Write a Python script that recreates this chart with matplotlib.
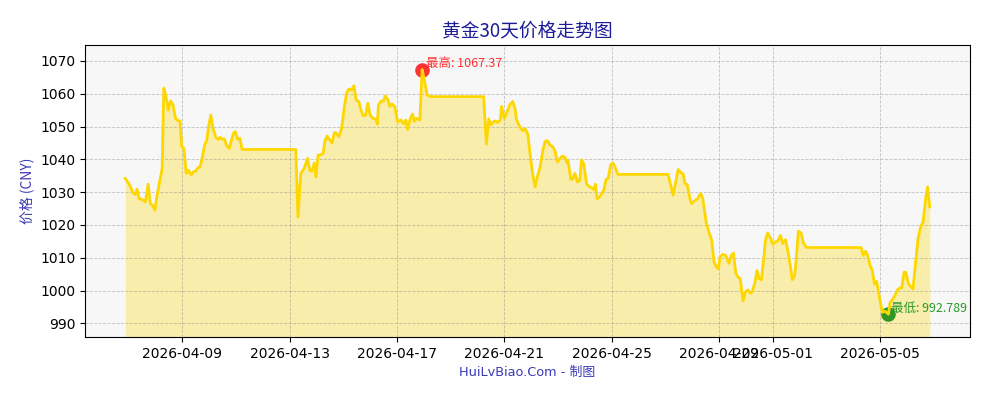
import matplotlib
matplotlib.use("Agg")
import matplotlib.pyplot as plt
import matplotlib.dates as mdates
import pandas as pd

YEAR = "2026"

times = [
    "04-06 21:00", "04-07 01:00", "04-07 04:00", "04-07 06:00", "04-07 07:30", "04-07 09:30",
    "04-07 12:30", "04-07 15:00", "04-07 17:30", "04-07 19:30", "04-07 21:30", "04-07 23:30",
    "04-08 01:30", "04-08 04:00", "04-08 06:00", "04-08 07:30", "04-08 09:30", "04-08 11:30",
    "04-08 13:30", "04-08 15:30", "04-08 18:00", "04-08 20:00", "04-08 22:00", "04-08 23:30",
    "04-09 01:30", "04-09 03:30", "04-09 05:30", "04-09 08:00", "04-09 10:00", "04-09 12:00",
    "04-09 14:00", "04-09 16:00", "04-09 18:00", "04-09 20:00", "04-09 22:00", "04-09 23:30",
    "04-10 01:30", "04-10 03:30", "04-10 06:00", "04-10 08:00", "04-10 10:00", "04-10 11:30",
    "04-10 13:30", "04-10 15:30", "04-10 18:00", "04-10 20:00", "04-10 22:00", "04-10 23:30",
    "04-11 01:30", "04-11 03:30", "04-11 05:30", "04-13 05:30", "04-13 07:30", "04-13 10:00",
    "04-13 13:00", "04-13 16:00", "04-13 18:00", "04-13 20:00", "04-13 22:00", "04-13 23:30",
    "04-14 01:30", "04-14 03:30", "04-14 06:00", "04-14 07:30", "04-14 09:30", "04-14 12:00",
    "04-14 14:00", "04-14 16:00", "04-14 17:30", "04-14 20:00", "04-14 22:30", "04-15 01:00",
    "04-15 03:00", "04-15 05:00", "04-15 07:30", "04-15 09:30", "04-15 11:30", "04-15 14:00",
    "04-15 15:30", "04-15 18:00", "04-15 20:00", "04-15 22:00", "04-16 00:00", "04-16 02:30",
    "04-16 05:00", "04-16 06:30", "04-16 07:30", "04-16 10:00", "04-16 12:00", "04-16 13:30",
    "04-16 16:00", "04-16 17:30", "04-16 19:30", "04-16 22:00", "04-17 00:30", "04-17 03:30",
    "04-17 06:00", "04-17 08:00", "04-17 09:30", "04-17 12:00", "04-17 14:00", "04-17 15:30",
    "04-17 17:30", "04-17 20:30", "04-17 22:30", "04-18 00:30", "04-18 03:00", "04-18 06:00",
    "04-20 05:30", "04-20 08:00", "04-20 10:00", "04-20 12:00", "04-20 14:30", "04-20 16:00",
    "04-20 18:00", "04-20 20:30", "04-20 21:30", "04-21 00:00", "04-21 02:30", "04-21 05:00",
    "04-21 07:30", "04-21 09:30", "04-21 11:00", "04-21 14:00", "04-21 16:30", "04-21 18:30",
    "04-21 21:00", "04-21 23:00", "04-22 01:30", "04-22 03:30", "04-22 05:30", "04-22 08:00",
    "04-22 10:30", "04-22 12:30", "04-22 14:30", "04-22 17:00", "04-22 19:30", "04-22 21:30",
    "04-22 23:30", "04-23 02:00", "04-23 04:00", "04-23 06:30", "04-23 08:00", "04-23 09:00",
    "04-23 11:30", "04-23 13:00", "04-23 15:00", "04-23 17:30", "04-23 19:30", "04-23 21:00",
    "04-23 23:00", "04-24 01:30", "04-24 04:00", "04-24 06:00", "04-24 08:00", "04-24 09:30",
    "04-24 11:00", "04-24 13:30", "04-24 15:30", "04-24 17:00", "04-24 19:00", "04-24 21:00",
    "04-24 23:00", "04-25 01:00", "04-25 03:00", "04-25 05:30", "04-27 02:30", "04-27 07:00",
    "04-27 11:30", "04-27 14:00", "04-27 16:00", "04-27 17:30", "04-27 19:30", "04-27 22:00",
    "04-27 23:30", "04-28 02:00", "04-28 05:00", "04-28 07:30", "04-28 09:30", "04-28 12:30",
    "04-28 15:00", "04-28 17:30", "04-28 19:30", "04-28 21:30", "04-28 23:30", "04-29 01:00",
    "04-29 03:30", "04-29 06:00", "04-29 09:00", "04-29 11:00", "04-29 13:00", "04-29 15:00",
    "04-29 17:00", "04-29 19:00", "04-29 21:30", "04-29 23:30", "04-30 02:00", "04-30 04:00",
    "04-30 05:30", "04-30 08:00", "04-30 10:00", "04-30 12:00", "04-30 14:00", "04-30 16:00",
    "04-30 17:30", "04-30 19:30", "04-30 22:00", "05-01 00:00", "05-01 02:30", "05-01 04:30",
    "05-01 07:00", "05-01 09:00", "05-01 11:30", "05-01 13:30", "05-01 15:30", "05-01 17:30",
    "05-01 19:30", "05-01 21:00", "05-01 23:00", "05-02 01:30", "05-02 03:30", "05-02 06:00",
    "05-02 09:30", "05-04 07:00", "05-04 09:00", "05-04 11:00", "05-04 13:00", "05-04 15:00",
    "05-04 17:00", "05-04 19:00", "05-04 21:00", "05-04 23:30", "05-05 02:00", "05-05 04:30",
    "05-05 07:30", "05-05 09:00", "05-05 11:00", "05-05 13:30", "05-05 15:30", "05-05 18:00",
    "05-05 19:30", "05-05 21:30", "05-05 23:00", "05-06 01:30", "05-06 03:30", "05-06 05:30",
    "05-06 08:00", "05-06 10:00", "05-06 12:30", "05-06 14:30", "05-06 17:00", "05-06 18:30",
    "05-06 20:30",
]

prices = [
    1034.2, 1032.1, 1029.8, 1029.3, 1030.9, 1028.0,
    1027.7, 1027.0, 1032.4, 1026.5, 1026.0, 1024.5,
    1029.1, 1033.6, 1037.2, 1061.7, 1059.1, 1055.0,
    1057.8, 1056.8, 1052.5, 1051.8, 1051.7, 1044.0,
    1043.3, 1035.7, 1036.7, 1035.2, 1036.2, 1036.4,
    1037.4, 1037.7, 1040.8, 1044.3, 1045.9, 1049.9,
    1053.5, 1049.4, 1046.7, 1046.1, 1046.7, 1046.1,
    1046.3, 1044.3, 1043.3, 1045.9, 1048.1, 1048.4,
    1046.1, 1046.4, 1043.0, 1043.0, 1022.4, 1035.7,
    1037.2, 1040.3, 1036.7, 1036.4, 1038.9, 1034.6,
    1041.3, 1041.3, 1041.8, 1045.4, 1047.1, 1045.9,
    1045.0, 1048.1, 1048.1, 1046.9, 1049.4, 1056.1,
    1060.2, 1061.4, 1061.2, 1062.4, 1058.1, 1057.5,
    1055.3, 1053.2, 1053.5, 1057.1, 1053.5, 1052.5,
    1052.2, 1050.7, 1056.6, 1057.8, 1057.8, 1059.3,
    1058.1, 1056.1, 1056.9, 1056.1, 1051.5, 1052.0,
    1050.8, 1052.0, 1049.1, 1052.5, 1053.8, 1051.5,
    1052.5, 1052.0, 1067.37, 1064.2, 1059.6, 1059.1,
    1059.1, 1044.6, 1052.3, 1050.5, 1051.5, 1051.7,
    1051.2, 1052.0, 1056.1, 1052.5, 1054.5, 1056.6,
    1057.6, 1055.6, 1052.0, 1049.8, 1048.7, 1049.4,
    1047.7, 1041.8, 1035.2, 1031.6, 1034.6, 1037.7,
    1042.8, 1045.4, 1045.7, 1044.3, 1043.8, 1042.3,
    1039.2, 1040.3, 1041.0, 1040.5, 1038.9, 1039.5,
    1033.9, 1033.9, 1035.7, 1033.1, 1033.6, 1039.8,
    1038.7, 1032.6, 1031.6, 1031.4, 1030.8, 1032.4,
    1028.0, 1028.7, 1029.8, 1030.6, 1033.9, 1034.2,
    1038.2, 1038.9, 1037.7, 1035.4, 1035.4, 1029.1,
    1036.9, 1035.9, 1035.5, 1032.6, 1032.4, 1028.0,
    1026.5, 1027.3, 1028.0, 1029.6, 1028.0, 1020.9,
    1017.8, 1015.3, 1008.7, 1007.3, 1006.6, 1010.4,
    1011.0, 1010.7, 1008.3, 1010.7, 1011.4, 1005.3,
    1004.1, 1003.6, 996.9, 999.5, 1000.2, 999.2,
    999.5, 1002.2, 1006.1, 1003.6, 1003.3, 1009.7,
    1015.3, 1017.5, 1016.1, 1014.1, 1014.8, 1015.1,
    1016.8, 1014.3, 1015.5, 1012.2, 1008.2, 1003.3,
    1004.3, 1009.2, 1018.1, 1017.5, 1014.5, 1013.2,
    1013.1, 1013.1, 1010.7, 1012.0, 1010.7, 1007.6,
    1006.3, 1002.0, 1002.8, 997.9, 993.4, 993.7,
    992.789, 996.4, 997.2, 998.5, 1000.2, 1000.8,
    1000.8, 1005.6, 1005.6, 1002.0, 1001.2, 1000.5,
    1009.2, 1015.8, 1019.6, 1020.9, 1028.5, 1031.6,
    1025.5,
]

title_text = "黄金30天价格走势图"
ylabel_text = "价格 (CNY)"
xlabel_text = "HuiLvBiao.Com - 制图"
high_label = "最高"
low_label = "最低"

dates = pd.to_datetime([f"{YEAR}-{t}" for t in times])
s = pd.Series(prices, index=dates)

cjk = ["Noto Sans CJK SC", "DejaVu Sans"]

fig = plt.figure(figsize=(10, 4), dpi=100)
ax = fig.add_axes([0.085, 0.1575, 0.885, 0.73])
ax.set_facecolor("#f7f7f7")

pmin, pmax = s.min(), s.max()
ylo, yhi = pmin * 0.993, pmax * 1.007

ax.plot(s.index, s.values, color="#FFD700", lw=2, zorder=3)
ax.fill_between(s.index, s.values, ylo, color="#FFD700", alpha=0.3, lw=0, zorder=1)
ax.set_ylim(ylo, yhi)

tmax, tmin = s.idxmax(), s.idxmin()
ax.scatter([tmax], [pmax], s=110, color="red", alpha=0.8, zorder=2, lw=0)
ax.scatter([tmin], [pmin], s=110, color="green", alpha=0.8, zorder=2, lw=0)
ax.annotate(f"{high_label}: {pmax:g}", (tmax, pmax), xytext=(3, 4), textcoords="offset points",
            ha="left", va="center", color="#ff3030", fontsize=9, family=cjk, zorder=4)
ax.annotate(f"{low_label}: {pmin:g}", (tmin, pmin), xytext=(2, 4), textcoords="offset points",
            ha="left", va="center", color="#2a9a2a", fontsize=9, family=cjk, zorder=4)

ax.grid(True, linestyle="--", color="gray", alpha=0.45, lw=0.6)
ax.xaxis.set_major_formatter(mdates.DateFormatter("%Y-%m-%d"))
for lab in ax.get_xticklabels() + ax.get_yticklabels():
    lab.set_family("DejaVu Sans")

ax.set_title(title_text, fontsize=13.5, color="#1c1c96", family=cjk, pad=6)
ax.set_ylabel(ylabel_text, fontsize=10, color="#3a3ab4", family=cjk)
ax.set_xlabel(xlabel_text, fontsize=9.3, color="#3a3ab4", family=["DejaVu Sans", "Noto Sans CJK SC"], labelpad=4)

fig.savefig("out.png", dpi=100)
